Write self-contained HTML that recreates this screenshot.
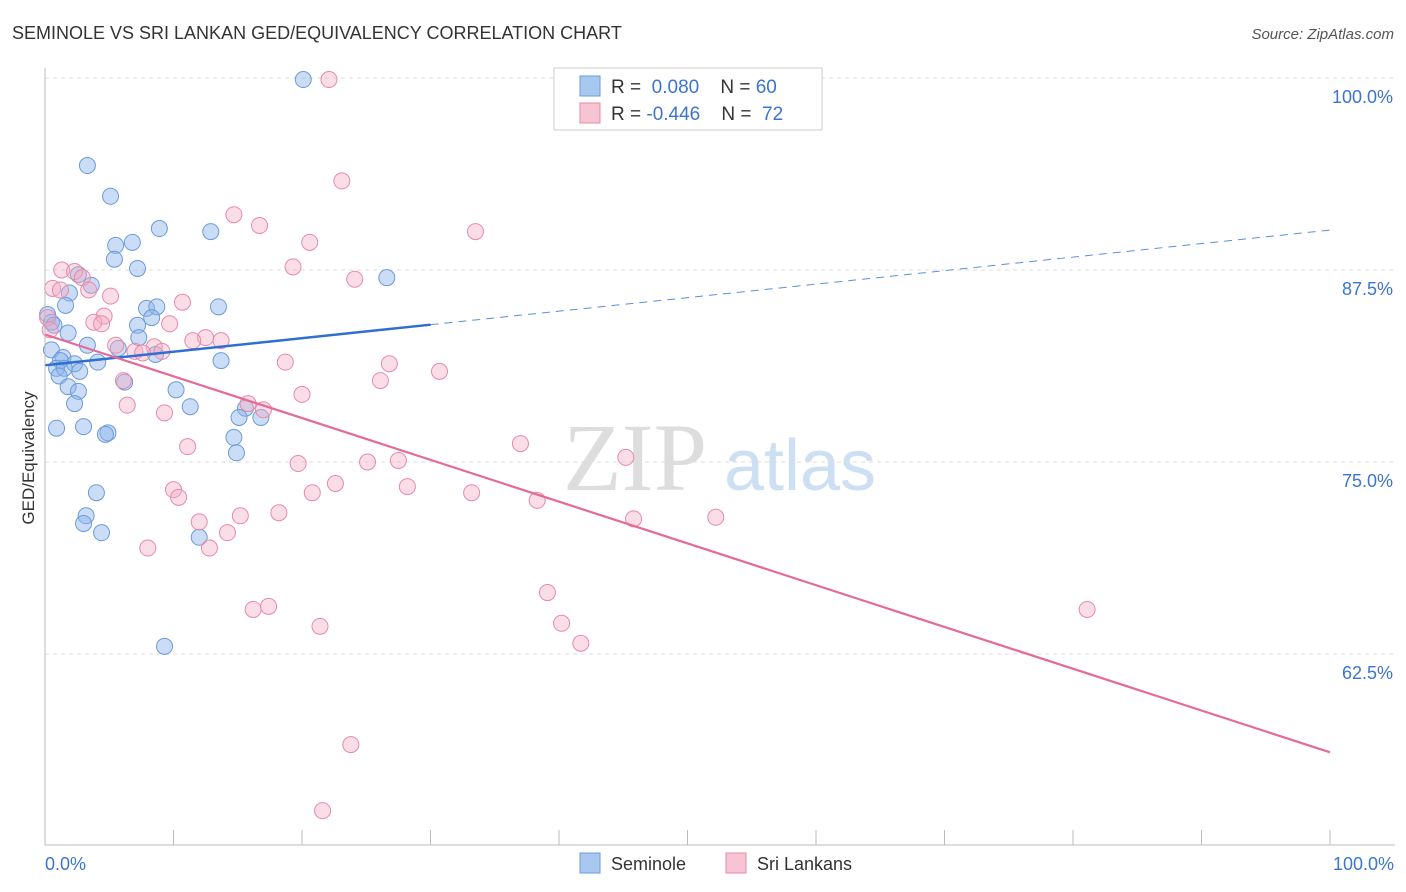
<!DOCTYPE html>
<html><head><meta charset="utf-8"><style>
body{margin:0;background:#fff;font-family:"Liberation Sans",sans-serif;}
#c{position:relative;width:1406px;height:892px;overflow:hidden}
</style></head><body>
<div id="c">
<svg id="s" width="1406" height="892" xmlns="http://www.w3.org/2000/svg">
<text x="12" y="39" font-size="18" fill="#333">SEMINOLE VS SRI LANKAN GED/EQUIVALENCY CORRELATION CHART</text>
<text x="1394" y="39" font-size="15" fill="#555" font-style="italic" text-anchor="end">Source: ZipAtlas.com</text>
<text x="34" y="458" font-size="17" fill="#333" text-anchor="middle" transform="rotate(-90 34 458)">GED/Equivalency</text>
<text x="635" y="490" font-size="96" fill="#ddd" font-family="Liberation Serif" text-anchor="middle">ZIP</text>
<text x="800" y="490" font-size="72" fill="#cddff3" text-anchor="middle">atlas</text>
<g id="grid"></g><g id="pts"></g><g id="lines"></g>
<line x1="45" y1="68" x2="45" y2="845" stroke="#bbb"/>
<line x1="45" y1="845" x2="1395" y2="845" stroke="#bbb"/>
<text x="45" y="870" font-size="18" fill="#3b75d0">0.0%</text>
<text x="1394" y="870" font-size="18" fill="#3b75d0" text-anchor="end">100.0%</text>
<g>
<rect x="554" y="68" width="268" height="62" fill="#fff" stroke="#ccc"/>
<rect x="580" y="76" width="20" height="20" fill="#a9c8f0" stroke="#6b9bd8"/>
<rect x="580" y="103" width="20" height="20" fill="#f7c4d4" stroke="#e88aa8"/>
<text x="611" y="93" font-size="19" fill="#333">R = <tspan fill="#3b75d0">&#160;0.080</tspan>&#160;&#160;&#160;&#160;N = <tspan fill="#3b75d0">60</tspan></text>
<text x="611" y="120" font-size="19" fill="#333">R = <tspan fill="#3b75d0">-0.446</tspan>&#160;&#160;&#160;&#160;N = <tspan fill="#3b75d0">&#160;72</tspan></text>
</g>
<g><rect x="580" y="853" width="20" height="20" fill="#a9c8f0" stroke="#6b9bd8"/><text x="611" y="870" font-size="18" fill="#333">Seminole</text></g>
<g><rect x="726" y="853" width="20" height="20" fill="#f7c4d4" stroke="#e88aa8"/><text x="757" y="870" font-size="18" fill="#333">Sri Lankans</text></g>
</svg></div>
<script>
const yTicks=[100,87.5,75,62.5];
const yTickLabels=["100.0%","87.5%","75.0%","62.5%"];
const xTicks=[0,10,20,30,40,50,60,70,80,90,100];
const blueX=[20.1,3.3,5.1,8.9,12.9,5.5,6.8,5.4,7.2,26.6,2.6,3.6,1.9,7.9,8.7,13.5,1.6,8.3,0.2,0.5,0.7,1.8,7.2,7.3,3.3,5.7,8.6,0.5,1.4,1.2,2.3,4.1,13.7,0.9,1.5,2.7,1.1,6.2,1.8,2.6,10.2,2.3,11.3,15.6,15.1,16.8,0.9,3.0,4.9,4.7,14.7,14.9,4.0,3.2,3.0,4.4,12.0,9.3];
const blueY=[99.9,94.3,92.3,90.2,90.0,89.1,89.3,88.2,87.6,87.0,87.2,86.5,86.0,85.0,85.1,85.1,85.2,84.4,84.6,84.1,83.9,83.4,83.9,83.1,82.6,82.4,82.0,82.3,81.8,81.6,81.4,81.5,81.6,81.1,81.1,80.9,80.6,80.2,79.9,79.6,79.7,78.8,78.6,78.5,77.9,77.9,77.2,77.3,76.9,76.8,76.6,75.6,73.0,71.5,71.0,70.4,70.1,63.0];
const pinkX=[22.1,23.1,14.7,16.7,33.5,20.6,1.3,19.3,2.3,2.9,24.1,0.6,1.2,3.4,5.1,10.7,4.6,3.8,4.4,9.7,12.5,11.5,13.7,5.5,8.5,7.0,9.1,7.6,18.7,26.8,30.7,26.1,6.1,20.0,6.4,15.8,17.0,9.3,11.1,37.0,19.7,25.1,27.5,45.2,22.6,28.2,10.0,20.8,10.4,33.2,38.3,15.2,18.2,12.0,45.8,52.2,14.2,8.0,12.8,39.1,16.2,17.4,81.1,21.4,40.2,41.7,23.8,21.6,0.2,0.4];
const pinkY=[99.9,93.3,91.1,90.4,90.0,89.3,87.5,87.7,87.4,87.0,86.9,86.3,86.2,86.2,85.8,85.4,84.5,84.1,84.0,84.0,83.1,82.9,82.9,82.6,82.5,82.2,82.2,82.1,81.5,81.4,80.9,80.3,80.3,79.4,78.7,78.8,78.4,78.2,76.0,76.2,74.9,75.0,75.1,75.3,73.6,73.4,73.2,73.0,72.7,73.0,72.5,71.5,71.7,71.1,71.3,71.4,70.4,69.4,69.4,66.5,65.4,65.6,65.4,64.3,64.5,63.2,56.6,52.3,84.4,83.6];
const blueTrend=[81.3,0.088];   // intercept, slope
const pinkTrend=[83.3,-0.272];
const NS="http://www.w3.org/2000/svg";
const sx=v=>45+v*12.85, sy=v=>78+(100-v)*15.36;
function mk(t,a,p){const e=document.createElementNS(NS,t);for(const k in a)e.setAttribute(k,a[k]);document.getElementById(p).appendChild(e);return e;}
yTicks.forEach((t,i)=>{
 const l=mk('line',{x1:45,x2:1395,y1:sy(t),y2:sy(t),stroke:'#ddd','stroke-dasharray':'4,4'},'grid');
 
 
 const tx=mk('text',{x:1393,y:sy(t)+25,'font-size':18,fill:'#3b75d0','text-anchor':'end'},'grid');
 tx.textContent=yTickLabels[i];
 
 
});
xTicks.forEach(t=>{
 const l=mk('line',{x1:sx(t),x2:sx(t),y1:830,y2:845,stroke:'#bbb'},'grid');
 
 
});
blueX.forEach((x,i)=>{
 const c=mk('circle',{cx:sx(x),cy:sy(blueY[i]),r:8,fill:'rgba(140,180,235,0.45)',stroke:'#6b9bd8','stroke-width':1},'pts');
 
 
});
pinkX.forEach((x,i)=>{
 const c=mk('circle',{cx:sx(x),cy:sy(pinkY[i]),r:8,fill:'rgba(245,170,195,0.4)',stroke:'#e88aa8','stroke-width':1},'pts');
 
 
});
const b1=mk('line',{x1:sx(0),y1:sy(blueTrend[0]),x2:sx(30),y2:sy(blueTrend[0]+blueTrend[1]*30),stroke:'#2f6fd0','stroke-width':2.5},'lines');


const b2=mk('line',{x1:sx(30),y1:sy(blueTrend[0]+blueTrend[1]*30),x2:sx(100),y2:sy(blueTrend[0]+blueTrend[1]*100),stroke:'#5a8fdc','stroke-width':1,'stroke-dasharray':'8,6'},'lines');


const p1=mk('line',{x1:sx(0),y1:sy(pinkTrend[0]),x2:sx(100),y2:sy(pinkTrend[0]+pinkTrend[1]*100),stroke:'#e56a98','stroke-width':2.2},'lines');


</script>
</body></html>
